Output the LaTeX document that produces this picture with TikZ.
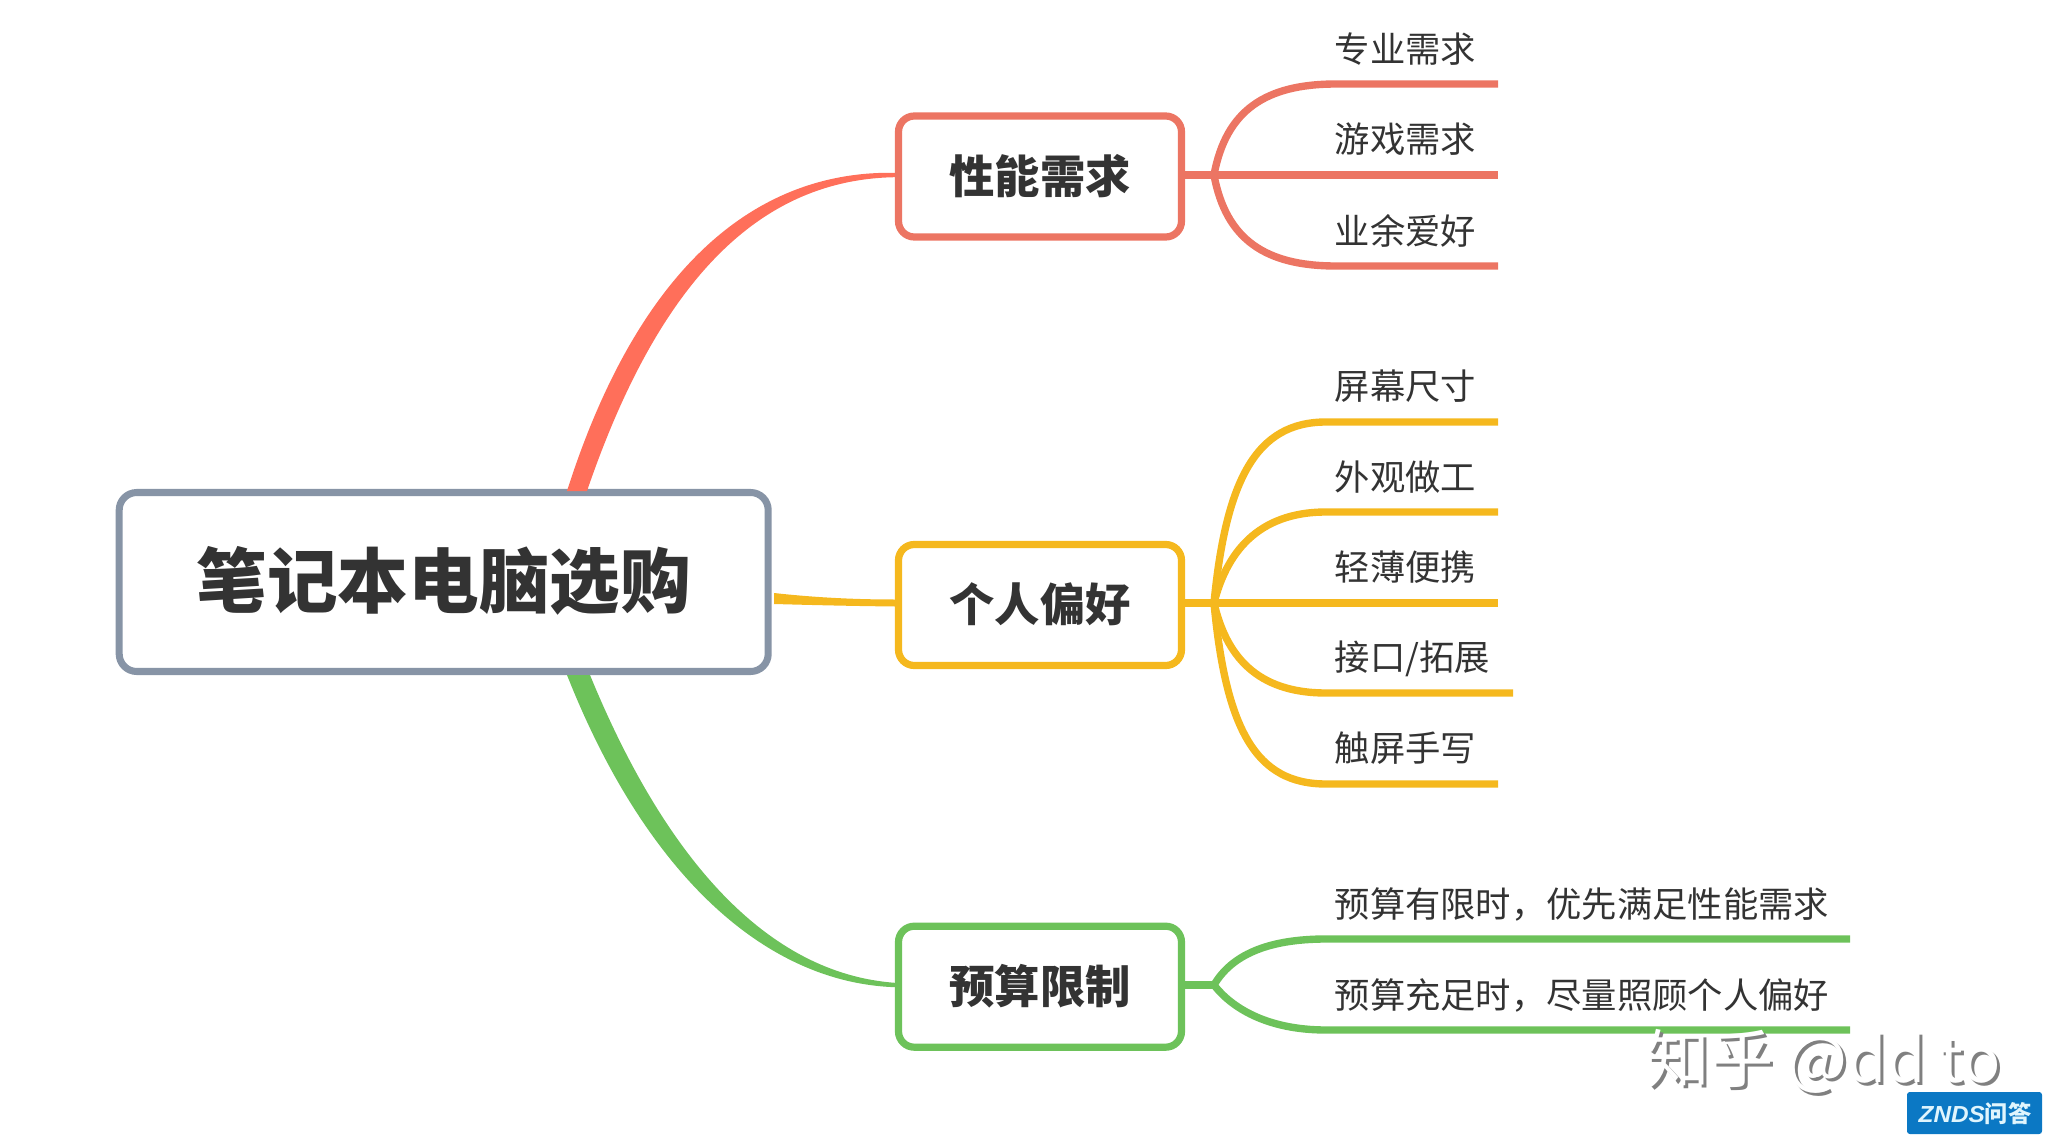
\documentclass[tikz,border=0pt]{standalone}
\usepackage{fontspec}
\setmainfont{Noto Sans CJK SC}
\newfontfamily\rootfont{Noto Sans CJK SC Black}
\newfontfamily\badgefont{Liberation Sans}
\usetikzlibrary{calc}
\definecolor{inkdark}{HTML}{333333}
\definecolor{rootgray}{HTML}{8794A6}
\definecolor{perfred}{HTML}{EC7563}
\definecolor{trunkred}{HTML}{FF6F5A}
\definecolor{prefyellow}{HTML}{F5B81E}
\definecolor{budgetgreen}{HTML}{6DC25A}
\definecolor{badgeblue}{HTML}{0B78C4}
\newcommand{\boxlabel}[1]{\raisebox{1.5pt}{#1}\hspace{2.5pt}}
\tikzset{
  rootbox/.style = {draw = rootgray, line width = 2pt, rounded corners = 5pt, fill = white, minimum width = 6.49cm, minimum height = 1.79cm, inner sep = 0pt, text = inkdark, font = \fontsize{20.1pt}{24pt}\selectfont\rootfont},
  branchbox/.style = {line width = 2.05pt, rounded corners = 4.5pt, fill = white, minimum width = 2.83cm, minimum height = 1.21cm, inner sep = 0pt, text = inkdark, font = \fontsize{12.9pt}{15pt}\selectfont\bfseries},
  leaftext/.style = {anchor = west, inner sep = 0pt, text = inkdark, font = \fontsize{10.05pt}{12pt}\selectfont},
  leafline/.style = {line width = 2.1pt}
}
\begin{document}
\begin{tikzpicture}[x = 1cm, y = -1cm]
\useasboundingbox (0,0) rectangle (20.51,11.43);
\path (4.437,5.82) node[rootbox] (root) {\raisebox{3pt}{笔记本电脑选购}\hspace{2.5pt}};
\path (10.40,1.765) node[branchbox, draw = perfred] (perf) {\boxlabel{性能需求}};
\path (10.40,6.05) node[branchbox, draw = prefyellow] (pref) {\boxlabel{个人偏好}};
\path (10.40,9.867) node[branchbox, draw = budgetgreen] (budget) {\boxlabel{预算限制}};

\path (13.34,0.49) node[leaftext] (perfa) {专业需求};
\path (13.34,1.39) node[leaftext] (perfb) {游戏需求};
\path (13.34,2.305) node[leaftext] (perfc) {业余爱好};
\path (13.34,3.86) node[leaftext] (prefa) {屏幕尺寸};
\path (13.34,4.77) node[leaftext] (prefb) {外观做工};
\path (13.34,5.675) node[leaftext] (prefc) {轻薄便携};
\path (13.34,6.59) node[leaftext] (prefd) {接口/拓展};
\path (13.34,7.48) node[leaftext] (prefe) {触屏手写};
\path (13.34,9.045) node[leaftext] (budgeta) {预算有限时，优先满足性能需求};
\path (13.34,9.955) node[leaftext] (budgetb) {预算充足时，尽量照顾个人偏好};

\coordinate (perfjoint) at (12.14,1.75);
\coordinate (prefjoint) at (12.14,6.03);
\coordinate (budgetjoint) at (12.14,9.85);

\coordinate (redfootl) at (5.67,4.91);
\coordinate (redfootr) at (5.87,4.91);
\coordinate (yellowfootu) at (7.74,5.93);
\coordinate (yellowfootd) at (7.74,6.04);
\coordinate (greenfootl) at (5.67,6.75);
\coordinate (greenfootr) at (5.90,6.75);

\fill[trunkred] (redfootl) .. controls (6.395,2.64) and (7.577,1.705) .. ($(perf.west |- perfjoint)+(0,-0.022)$) -- ($(perf.west |- perfjoint)+(0,0.022)$) .. controls (7.623,1.795) and (6.605,2.76) .. (redfootr) -- cycle;
\fill[prefyellow] (yellowfootu) .. controls (8.10,5.97) and (8.50,5.995) .. ($(pref.west |- prefjoint)+(0,-0.035)$) -- ($(pref.west |- prefjoint)+(0,0.035)$) .. controls (8.50,6.06) and (8.10,6.05) .. (yellowfootd) -- cycle;
\fill[budgetgreen] (greenfootl) .. controls (6.445,8.71) and (7.627,9.825) .. ($(budget.west |- budgetjoint)+(0,0.022)$) -- ($(budget.west |- budgetjoint)+(0,-0.022)$) .. controls (7.673,9.735) and (6.655,8.59) .. (greenfootr) -- cycle;

\draw[leafline, perfred] (perf.east |- perfjoint) -- (perfjoint);
\draw[leafline, perfred] (perfjoint) .. controls (12.26,1.10) and (12.66,0.84) .. (13.36,0.84) -- (14.98,0.84) coordinate (perfaend);
\draw[leafline, perfred] (perfjoint) -- (14.98,1.75) coordinate (perfbend);
\draw[leafline, perfred] (perfjoint) .. controls (12.26,2.40) and (12.66,2.66) .. (13.36,2.66) -- (14.98,2.66) coordinate (perfcend);

\draw[leafline, prefyellow] (pref.east |- prefjoint) -- (prefjoint);
\draw[leafline, prefyellow] (prefjoint) .. controls (12.26,4.80) and (12.56,4.22) .. (13.26,4.22) -- (14.98,4.22) coordinate (prefaend);
\draw[leafline, prefyellow] (prefjoint) .. controls (12.26,5.55) and (12.56,5.12) .. (13.26,5.12) -- (14.98,5.12) coordinate (prefbend);
\draw[leafline, prefyellow] (prefjoint) -- (14.98,6.03) coordinate (prefcend);
\draw[leafline, prefyellow] (prefjoint) .. controls (12.26,6.55) and (12.56,6.93) .. (13.26,6.93) -- (15.13,6.93) coordinate (prefdend);
\draw[leafline, prefyellow] (prefjoint) .. controls (12.26,7.30) and (12.56,7.84) .. (13.26,7.84) -- (14.98,7.84) coordinate (prefeend);

\draw[leafline, budgetgreen] (budget.east |- budgetjoint) -- (budgetjoint);
\draw[leafline, budgetgreen] (budgetjoint) .. controls (12.31,9.56) and (12.66,9.39) .. (13.26,9.39) -- (18.50,9.39) coordinate (budgetaend);
\draw[leafline, budgetgreen] (budgetjoint) .. controls (12.31,10.07) and (12.66,10.30) .. (13.26,10.30) -- (18.50,10.30) coordinate (budgetbend);

\path (18.27,10.645) node[text = gray, font = \fontsize{18pt}{20pt}\selectfont] (markback) {知乎 @dd to};
\path (18.24,10.615) node[text = white, font = \fontsize{18pt}{20pt}\selectfont] (markfront) {知乎 @dd to};

\path[fill = badgeblue, rounded corners = 0.8pt] (19.07,10.92) rectangle (20.42,11.34);
\path (19.75,11.14) node[text = cyan!12, inner sep = 0pt, font = \fontsize{6.6pt}{8pt}\selectfont\bfseries] (badge) {\scalebox{1.05}[1]{\badgefont\itshape ZNDS}问答};
\end{tikzpicture}
\end{document}
